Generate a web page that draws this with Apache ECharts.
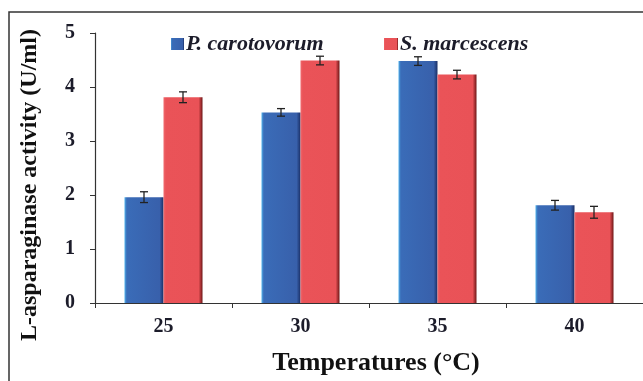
<!DOCTYPE html>
<html>
<head>
<meta charset="utf-8">
<script src="https://cdn.jsdelivr.net/npm/echarts@6/dist/echarts.min.js"></script>
<style>html,body{margin:0;padding:0;background:#fff}#c{width:643px;height:381px}</style>
</head>
<body>
<div id="c"></div>
<script>
const categories = ['25', '30', '35', '40'];
const pcValues = [1.96, 3.53, 4.48, 1.81];
const pcErrors = [0.10, 0.07, 0.08, 0.09];
const smValues = [3.81, 4.49, 4.23, 1.68];
const smErrors = [0.10, 0.08, 0.08, 0.11];
const yTicks = [0, 1, 2, 3, 4, 5];

const chart = echarts.init(document.getElementById('c'));
const BAR_W = 39;
const FONT = '"Liberation Serif", "Times New Roman", serif';
const TXT = '#1c1c2a';

const blueGrad = new echarts.graphic.LinearGradient(0, 0, 1, 0, [
  {offset: 0, color: '#4fb0ea'}, {offset: 0.06, color: '#3a6cb8'},
  {offset: 0.9, color: '#3860ab'}, {offset: 1, color: '#1a2f66'}
]);
const redGrad = new echarts.graphic.LinearGradient(0, 0, 1, 0, [
  {offset: 0, color: '#f06a6e'}, {offset: 0.06, color: '#ea5358'},
  {offset: 0.9, color: '#e95257'}, {offset: 1, color: '#6e1616'}
]);

function errSeries(values, errors, side) {
  return {
    type: 'custom',
    z: 10,
    data: categories.map((c, i) => [i, values[i], errors[i]]),
    renderItem: function (params, api) {
      const idx = api.value(0);
      const v = api.value(1), e = api.value(2);
      const top = api.coord([idx, v + e]);
      const bot = api.coord([idx, v - e]);
      const x = top[0] + side * BAR_W / 2;
      const cap = 4;
      const st = {stroke: '#222', lineWidth: 1.3};
      return {
        type: 'group',
        children: [
          {type: 'line', shape: {x1: x, y1: top[1], x2: x, y2: bot[1]}, style: st},
          {type: 'line', shape: {x1: x - cap, y1: top[1], x2: x + cap, y2: top[1]}, style: st},
          {type: 'line', shape: {x1: x - cap, y1: bot[1], x2: x + cap, y2: bot[1]}, style: st}
        ]
      };
    }
  };
}

const legendText = {fontFamily: FONT, fontWeight: 'bold', fontStyle: 'italic', fontSize: 22, color: TXT, padding: [0, 0, 0, -3]};

chart.setOption({
  animation: false,
  backgroundColor: '#fff',
  grid: {left: 95, top: 33, right: 0, bottom: 78, containLabel: false},
  legend: [
    {left: 166, top: 28, itemWidth: 13, itemHeight: 12, icon: 'rect', data: ['P. carotovorum'], textStyle: legendText},
    {left: 379, top: 28, itemWidth: 14, itemHeight: 12, icon: 'rect', data: ['S. marcescens'], textStyle: legendText}
  ],
  xAxis: {
    type: 'category',
    data: categories,
    axisLine: {lineStyle: {color: '#333', width: 1.2}},
    axisTick: {show: true, inside: false, length: 5, lineStyle: {color: '#333'}},
    axisLabel: {fontFamily: FONT, fontWeight: 'bold', fontSize: 20, color: TXT, margin: 14},
    name: 'Temperatures (°C)',
    nameLocation: 'middle',
    nameGap: 47,
    nameTextStyle: {fontFamily: FONT, fontWeight: 'bold', fontSize: 26, color: '#111', padding: [0, 0, 0, 14]}
  },
  yAxis: {
    type: 'value', min: 0, max: 5, interval: 1,
    axisLine: {show: true, lineStyle: {color: '#333', width: 1.2}},
    axisTick: {show: true, length: 5, lineStyle: {color: '#333'}},
    splitLine: {show: false},
    axisLabel: {fontFamily: FONT, fontWeight: 'bold', fontSize: 20, color: TXT, margin: 20,
      formatter: v => yTicks.includes(v) ? String(v) : ''}
  },
  graphic: [
    {type: 'rect', shape: {x: 9, y: 12, width: 640, height: 380}, style: {fill: 'none', stroke: '#333', lineWidth: 1.5}, silent: true},
    {type: 'text', x: 30, y: 185, rotation: Math.PI / 2,
      style: {text: 'L-asparaginase activity (U/ml)', fontFamily: FONT, fontWeight: 'bold', fontSize: 24, fill: '#111', align: 'center', verticalAlign: 'middle'}}
  ],
  series: [
    {name: 'P. carotovorum', type: 'bar', data: pcValues, barWidth: BAR_W, barGap: '0%',
      itemStyle: {color: blueGrad}},
    {name: 'S. marcescens', type: 'bar', data: smValues, barWidth: BAR_W, barGap: '0%',
      itemStyle: {color: redGrad}},
    errSeries(pcValues, pcErrors, -1),
    errSeries(smValues, smErrors, 1)
  ]
});
</script>
</body>
</html>
